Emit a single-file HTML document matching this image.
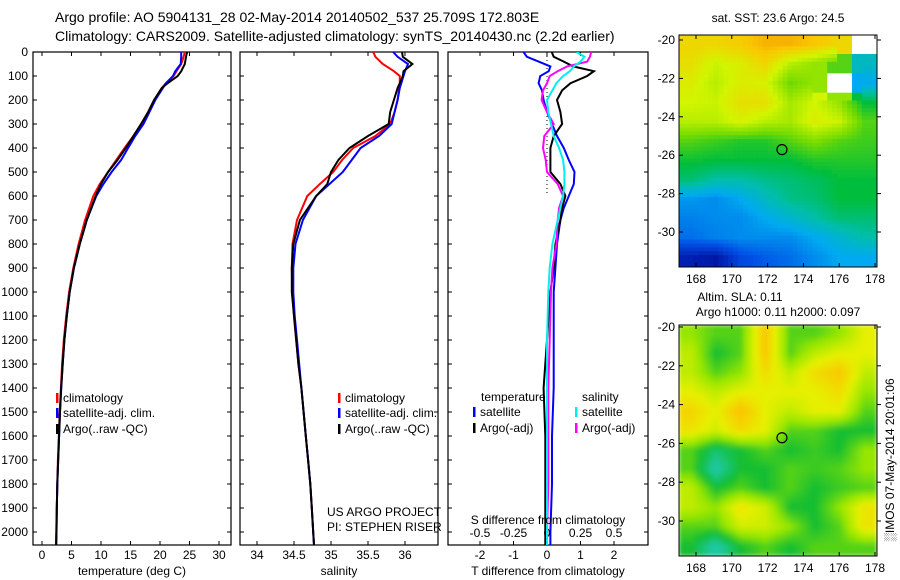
<!DOCTYPE html>
<html><head><meta charset="utf-8">
<style>
body{margin:0;background:#fff;}
svg{display:block;font-family:"Liberation Sans",sans-serif;}
</style></head>
<body>
<svg id="chart" width="900" height="580" viewBox="0 0 900 580" xmlns="http://www.w3.org/2000/svg">
<defs>
<clipPath id="c1"><rect x="33" y="52" width="198" height="493"/></clipPath>
<clipPath id="c2"><rect x="240" y="52" width="198" height="493"/></clipPath>
<clipPath id="c3"><rect x="448" y="52" width="200" height="493"/></clipPath>
<clipPath id="cm1"><rect x="679" y="35" width="198" height="232"/></clipPath>
<clipPath id="cm2"><rect x="679" y="325" width="198" height="231"/></clipPath>
<filter id="blur1"><feGaussianBlur stdDeviation="0.3"/></filter>
<filter id="blur2"><feGaussianBlur stdDeviation="2"/></filter>
</defs>
<text x="55" y="22" font-size="14">Argo profile: AO 5904131_28 02-May-2014 20140502_537 25.709S 172.803E</text>
<text x="55" y="41" font-size="14">Climatology: CARS2009. Satellite-adjusted climatology: synTS_20140430.nc (2.2d earlier)</text>
<g id="g"></g>
</svg>
<script>
// ---------- data ----------
const depths = [0,20,50,80,100,130,150,200,250,300,350,400,450,500,550,600,700,800,900,1000,1100,1200,1300,1400,1500,1600,1700,1800,1900,2000,2054];
const tClim = [24.2,24.0,23.6,22.8,22.3,21,20.3,19,18,16.8,15.5,14,12.6,11.2,9.8,8.7,7.3,6.2,5.3,4.6,4.1,3.7,3.4,3.2,3.0,2.85,2.7,2.6,2.5,2.4,2.35];
const tSat = [23.6,23.6,23.5,22.6,22.2,21,20.5,19.2,18.2,17.2,15.8,14.6,13.4,11.8,10.4,9.2,7.6,6.4,5.4,4.7,4.2,3.8,3.5,3.25,3.05,2.9,2.75,2.6,2.5,2.45,2.4];
const tArgo = [24.6,24.4,24.2,23.6,23,21.3,20.3,19,18,16.8,15.5,14.2,12.8,11.2,10,9.1,7.6,6.4,5.4,4.7,4.2,3.8,3.5,3.25,3.05,2.9,2.75,2.6,2.5,2.45,2.4];
const sClim = [35.57,35.6,35.7,35.85,35.93,35.93,35.92,35.9,35.86,35.8,35.6,35.3,35.15,35.03,34.85,34.68,34.54,34.48,34.47,34.48,34.5,34.53,34.56,34.6,34.63,34.66,34.69,34.72,34.74,34.76,34.77];
const sSat = [35.84,35.9,36.04,36.0,35.98,35.95,35.93,35.9,35.86,35.82,35.65,35.4,35.28,35.16,34.98,34.8,34.62,34.52,34.49,34.49,34.51,34.54,34.57,34.6,34.63,34.66,34.69,34.72,34.74,34.76,34.77];
const sArgo = [35.96,35.97,36.1,35.98,35.97,35.93,35.9,35.85,35.8,35.78,35.5,35.25,35.1,35.0,34.95,34.8,34.58,34.49,34.47,34.47,34.5,34.53,34.56,34.6,34.63,34.66,34.69,34.72,34.74,34.76,34.77];
const dDepths = [0,20,40,60,80,100,130,160,200,250,300,350,400,450,500,550,600,650,700,800,900,1000,1200,1400,1600,1800,2000,2054];
const dTSat = [-0.7,-0.6,-0.25,0.1,0.05,-0.2,-0.25,-0.15,-0.1,0.0,0.15,0.3,0.5,0.65,0.82,0.8,0.65,0.5,0.4,0.3,0.25,0.2,0.2,0.2,0.15,0.15,0.1,0.1];
const dTArgo = [0.14,0.2,0.5,0.78,1.4,1.2,0.7,0.45,0.3,0.4,0.45,0.2,0.1,0.1,0.1,0.4,0.55,0.45,0.4,0.25,0.2,0.1,0.0,-0.1,-0.05,-0.05,-0.05,-0.05];
const dSSat = [0.22,0.28,0.25,0.2,0.17,0.12,0.07,0.04,0.0,0.01,0.03,0.05,0.09,0.12,0.13,0.13,0.12,0.1,0.08,0.04,0.02,0.01,0,0,0,0,0,0];
const dSArgo = [0.33,0.32,0.3,0.15,0.08,0.02,0,-0.03,-0.04,0.0,0.05,-0.02,-0.03,-0.01,0.0,0.08,0.12,0.09,0.08,0.07,0.04,0.03,0.02,0.01,0.01,0.01,0,0];
const depthTicks = [0,100,200,300,400,500,600,700,800,900,1000,1100,1200,1300,1400,1500,1600,1700,1800,1900,2000];
const tTicks = [0,5,10,15,20,25,30];
const sTicks = [34,34.5,35,35.5,36];
const sTickLabels = ["34","34.5","35","35.5","36"];
const dtTicks = [-2,-1,0,1,2];
const dsTicks = [-0.5,-0.25,0,0.25,0.5];
const latTicks = [-20,-22,-24,-26,-28,-30];
const lonTicks = [168,170,172,174,176,178];
const sstGrid = [
[.82,.82,.84,.88,.88,.85,.82,-1],
[.8,.74,.77,.82,.72,.68,.62,.42],
[.77,.72,.77,.76,.64,.68,-1,.35],
[.75,.74,.8,.8,.7,.75,.68,.55],
[.72,.72,.76,.72,.7,.77,.74,.62],
[.62,.6,.58,.58,.62,.66,.62,.6],
[.56,.55,.55,.55,.55,.58,.58,.58],
[.5,.45,.45,.48,.5,.52,.55,.55],
[.32,.3,.35,.42,.48,.5,.55,.55],
[.28,.3,.3,.35,.4,.45,.5,.5],
[.25,.28,.3,.3,.3,.35,.4,.45],
[.08,.06,.18,.22,.25,.3,.35,.35]];
const slaGrid = [
[.65,.6,.6,.85,.6,.6,.65,.75],
[.7,.55,.6,.85,.6,.7,.75,.75],
[.7,.6,.65,.8,.7,.8,.85,.7],
[.75,.7,.75,.75,.75,.75,.8,.65],
[.82,.75,.87,.75,.7,.75,.75,.6],
[.78,.72,.8,.75,.6,.6,.55,.55],
[.6,.5,.55,.6,.55,.58,.55,.65],
[.6,.43,.55,.55,.6,.58,.6,.65],
[.7,.55,.6,.55,.6,.55,.58,.6],
[.7,.65,.78,.72,.55,.55,.65,.78],
[.6,.6,.72,.72,.65,.55,.6,.78],
[.55,.43,.55,.6,.55,.6,.6,.6]];
const argoLon = 172.803, argoLat = -25.709;

// ---------- helpers ----------
const NS="http://www.w3.org/2000/svg";
const G=document.getElementById('g');
function mk(tag,attrs,parent){const e=document.createElementNS(NS,tag);for(const k in attrs)e.setAttribute(k,attrs[k]);(parent||G).appendChild(e);return e;}
function txt(x,y,s,anchor,size){const e=mk('text',{x:x,y:y,'font-size':size||12,'text-anchor':anchor||'start'});e.textContent=s;return e;}
const yD = d => 52 + d*0.24;
const xT = v => 42 + v*5.9;
const xS = v => 257 + (v-34)*74;
const xDT = v => 547 + v*33.5;
const xDS = v => 547 + v*134;
function line(xs,ds,fx,color,w,clip,name){
  const pts=xs.map((v,i)=>fx(v).toFixed(1)+','+yD(ds[i]).toFixed(1)).join(' ');
  const p=mk('polyline',{points:pts,fill:'none',stroke:color,'stroke-width':w,'clip-path':'url(#'+clip+')'});
  
  
}
function box(x,w,name){
  const r=mk('rect',{x:x,y:52,width:w,height:493,fill:'none',stroke:'#000','stroke-width':1.2});
  
  
  depthTicks.forEach(d=>{mk('line',{x1:x,x2:x+4,y1:yD(d),y2:yD(d),stroke:'#000'});mk('line',{x1:x+w-4,x2:x+w,y1:yD(d),y2:yD(d),stroke:'#000'});});
}
function legend(x,y,color,label){
  mk('rect',{x:x,y:y-9,width:2.5,height:10,fill:color});
  const t=txt(x+7,y,label);
  
  
}

// ---------- panel 1: temperature ----------
box(33,198,'temperature-panel');
depthTicks.forEach(d=>{const t=txt(28,yD(d)+4,String(d),'end');});
tTicks.forEach(v=>{mk('line',{x1:xT(v),x2:xT(v),y1:52,y2:56,stroke:'#000'});mk('line',{x1:xT(v),x2:xT(v),y1:541,y2:545,stroke:'#000'});
  const t=txt(xT(v),559,String(v),'middle');});
line(tClim,depths,xT,'#f00',2,'c1','temp-climatology-line');
line(tSat,depths,xT,'#00f',2,'c1','temp-satellite-line');
line(tArgo,depths,xT,'#000',2,'c1','temp-argo-line');
{const t=txt(132,575,'temperature (deg C)','middle');}
legend(56,402,'#f00','climatology');
legend(56,417,'#00f','satellite-adj. clim.');
legend(56,433,'#000','Argo(..raw -QC)');

// ---------- panel 2: salinity ----------
box(240,198,'salinity-panel');
sTicks.forEach((v,i)=>{mk('line',{x1:xS(v),x2:xS(v),y1:52,y2:56,stroke:'#000'});mk('line',{x1:xS(v),x2:xS(v),y1:541,y2:545,stroke:'#000'});
  const t=txt(xS(v),559,sTickLabels[i],'middle');});
line(sClim,depths,xS,'#f00',2,'c2','sal-climatology-line');
line(sSat,depths,xS,'#00f',2,'c2','sal-satellite-line');
line(sArgo,depths,xS,'#000',2,'c2','sal-argo-line');
{const t=txt(339,575,'salinity','middle');}
legend(338,402,'#f00','climatology');
legend(338,417,'#00f','satellite-adj. clim.');
legend(338,433,'#000','Argo(..raw -QC)');
{const t=txt(327,516,'US ARGO PROJECT');}
{const t=txt(327,531,'PI: STEPHEN RISER');}

// ---------- panel 3: differences ----------
box(448,200,'difference-panel');
mk('line',{x1:547,x2:547,y1:52,y2:yD(600),stroke:'#000','stroke-dasharray':'1,3'});
dtTicks.forEach(v=>{mk('line',{x1:xDT(v),x2:xDT(v),y1:52,y2:56,stroke:'#000'});mk('line',{x1:xDT(v),x2:xDT(v),y1:541,y2:545,stroke:'#000'});
  const t=txt(xDT(v),559,String(v),'middle');});
dsTicks.forEach(v=>{const t=txt(xDS(v),537,String(v),'middle');});
line(dTSat,dDepths,xDT,'#00f',2,'c3','tdiff-satellite-line');
line(dTArgo,dDepths,xDT,'#000',2,'c3','tdiff-argo-line');
line(dSArgo,dDepths,xDS,'#f0f',2,'c3','sdiff-argo-line');
line(dSSat,dDepths,xDS,'#0ee',2,'c3','sdiff-satellite-line');
{const t=txt(548,524,'S difference from climatology','middle');}
{const t=txt(548,575,'T difference from climatology','middle');}
{const t=txt(481,401,'temperature');}
{const t=txt(582,401,'salinity');}
legend(473,416,'#00f','satellite');
legend(473,432,'#000','Argo(-adj)');
legend(575,416,'#0ee','satellite');
legend(575,432,'#f0f','Argo(-adj)');

// ---------- maps ----------
function cmap(v,stops){
  if(v<0) return '#fff';
  for(let i=1;i<stops.length;i++){ if(v<=stops[i][0]||i==stops.length-1){const a=stops[i-1],b=stops[i];let t=(v-a[0])/(b[0]-a[0]);t=Math.max(0,Math.min(1,t));
    return 'rgb('+[1,2,3].map(k=>Math.round(a[k]+(b[k]-a[k])*t)).join(',')+')';}}
}
const sstStops=[[0,0,0,140],[.2,0,80,230],[.35,0,170,240],[.45,0,190,170],[.55,0,190,60],[.65,120,220,0],[.75,210,245,0],[.85,250,200,0],[.95,240,130,0]];
const slaStops=[[.45,30,200,160],[.55,20,190,50],[.65,150,230,0],[.75,230,240,0],[.85,250,200,0]];
function sample(grid,fr,fc){
  const R=grid.length,C=grid[0].length;
  const r=Math.max(0,Math.min(R-1,fr-0.5)), c=Math.max(0,Math.min(C-1,fc-0.5));
  const r0=Math.floor(r),c0=Math.floor(c),r1=Math.min(R-1,r0+1),c1=Math.min(C-1,c0+1);
  const vals=[grid[r0][c0],grid[r0][c1],grid[r1][c0],grid[r1][c1]];
  const nearest=grid[Math.min(R-1,Math.floor(fr))][Math.min(C-1,Math.floor(fc))];
  if(nearest<0) return -1;
  if(vals.some(v=>v<0)) return nearest;
  const tr=r-r0,tc=c-c0;
  return (vals[0]*(1-tc)+vals[1]*tc)*(1-tr)+(vals[2]*(1-tc)+vals[3]*tc)*tr;
}
function drawMap(grid,stops,top,h,clip,filt,name,lat20,lat30,up){
  const gg=mk('g',{'clip-path':'url(#'+clip+')'});
  
  
  const inner=mk('g',{filter:'url(#'+filt+')'},gg);
  const R=grid.length,C=grid[0].length;
  const cw=198/(C*up), ch=h/(R*up);
  for(let r=0;r<R*up;r++)for(let c=0;c<C*up;c++){
    const v=sample(grid,(r+0.5)/up,(c+0.5)/up);
    const cell=mk('rect',{x:(679+c*cw-0.3).toFixed(2),y:(top+r*ch-0.3).toFixed(2),width:(cw+0.6).toFixed(2),height:(ch+0.6).toFixed(2),fill:cmap(v,stops)},inner);
    
    
  }
  const lonX = lo => 696 + (lo-168)*17.9;
  const latY = la => lat20 + (-20-la)*(lat30-lat20)/10;
  const circ=mk('circle',{cx:lonX(argoLon),cy:latY(argoLat),r:5,fill:'none',stroke:'#000','stroke-width':1.2});
  
  
  const fr=mk('rect',{x:679,y:top,width:198,height:h,fill:'none',stroke:'#000'});
  
  
  latTicks.forEach(la=>{const y=latY(la);mk('line',{x1:679,x2:683,y1:y,y2:y,stroke:'#000'});mk('line',{x1:877,x2:881,y1:y,y2:y,stroke:'#000'});
    const t=txt(675,y+4,String(la),'end');});
  lonTicks.forEach(lo=>{const x=lonX(lo);mk('line',{x1:x,x2:x,y1:top+h,y2:top+h-4,stroke:'#000'});mk('line',{x1:x,x2:x,y1:top,y2:top+4,stroke:'#000'});
    const t=txt(x,top+h+16,String(lo),'middle');});
}
drawMap(sstGrid,sstStops,35,232,'cm1','blur1','sst-map',40,232,5);
drawMap(slaGrid,slaStops,325,231,'cm2','blur2','sla-map',327,521,5);
{const t=txt(778,22,'sat. SST: 23.6  Argo: 24.5','middle');}
{const t=txt(740,301,'Altim. SLA: 0.11','middle');}
{const t=txt(778,316,'Argo h1000: 0.11 h2000: 0.097','middle');}
{const t=txt(0,0,'\u2591IMOS 07-May-2014 20:01:06','middle');t.setAttribute('transform','translate(894,460) rotate(-90)');}
</script>
</body></html>
